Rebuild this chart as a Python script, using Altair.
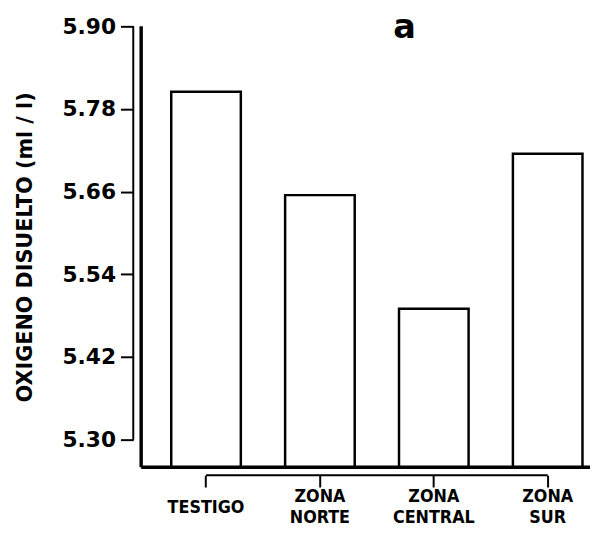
import altair as alt
import pandas as pd

categories = ["TESTIGO", "ZONA NORTE", "ZONA CENTRAL", "ZONA SUR"]
oxygen = [5.805, 5.655, 5.49, 5.715]
y_ticks = [5.30, 5.42, 5.54, 5.66, 5.78, 5.90]
y_floor = 5.26
panel_label = "a"
y_title = "OXIGENO DISUELTO (ml / l)"

df = pd.DataFrame({"zona": categories, "oxigeno": oxygen})
bracket = pd.DataFrame({"zona": [categories[0]], "fin": [categories[-1]]})
tickline = pd.DataFrame({"lo": [y_ticks[0]], "hi": [y_ticks[-1]]})

W, H = 455, 447
FONT = "DejaVu Sans"
XFONT = "DejaVu Sans Condensed"

xscale = alt.Scale(domain=categories, paddingInner=0.389, paddingOuter=0.165, align=0.8)
yscale = alt.Scale(domain=[y_floor, y_ticks[-1]], nice=False, zero=False)

x_axis = alt.Axis(title=None, domain=False, ticks=True, tickSize=12, tickWidth=2,
                  tickColor="black", offset=8, labelAngle=0, labelFont=XFONT,
                  labelFontSize=18, labelFontWeight="bold", labelColor="black",
                  labelBaseline="alphabetic", labelLineHeight=21,
                  labelPadding={"condition": {"test": "datum.value == 'TESTIGO'", "value": 26},
                                "value": 15},
                  labelExpr="split(datum.label, ' ')")

bars = alt.Chart(df).mark_bar(fill="white", stroke="black", strokeWidth=2.5).encode(
    x=alt.X("zona:N", scale=xscale, sort=categories, axis=x_axis),
    y=alt.Y("oxigeno:Q", scale=yscale,
            axis=alt.Axis(values=y_ticks, format=".2f", offset=8, domain=False, grid=False,
                          tickSize=13, tickWidth=2, tickColor="black",
                          labelFont=FONT, labelFontSize=22, labelFontWeight="bold",
                          labelColor="black", labelPadding=5,
                          title=y_title, titleFont=FONT, titleFontSize=21,
                          titleFontWeight="bold", titleColor="black", titlePadding=27)),
    y2=alt.datum(y_floor),
)

bracket_rule = alt.Chart(bracket).mark_rule(color="black", strokeWidth=2).encode(
    x=alt.X("zona:N", scale=xscale, sort=categories, axis=x_axis),
    x2="fin:N",
    y=alt.value(H + 8),
)

tick_rule = alt.Chart(tickline).mark_rule(color="black", strokeWidth=2).encode(
    x=alt.value(-8),
    y=alt.Y("lo:Q", scale=yscale),
    y2="hi:Q",
)

left_rule = alt.Chart(tickline).mark_rule(color="black", strokeWidth=3.5).encode(
    x=alt.value(0), y=alt.value(0), y2=alt.value(H)
)
base_rule = alt.Chart(tickline).mark_rule(color="black", strokeWidth=3.5).encode(
    y=alt.value(H), x=alt.value(0), x2=alt.value(W)
)

label = alt.Chart(tickline).mark_text(
    text=panel_label, font=FONT, fontSize=34, fontWeight="bold", color="black",
    baseline="alphabetic", align="center"
).encode(x=alt.value(267), y=alt.value(12))

chart = alt.layer(bars, bracket_rule, tick_rule, left_rule, base_rule, label).properties(
    width=W, height=H,
    autosize=alt.AutoSizeParams(type="none"),
    padding={"left": 135, "top": 15, "right": 0, "bottom": 60},
    background="white",
).configure_view(stroke=None)

chart.save("out.html", embed_options={"renderer": "svg", "actions": False})
